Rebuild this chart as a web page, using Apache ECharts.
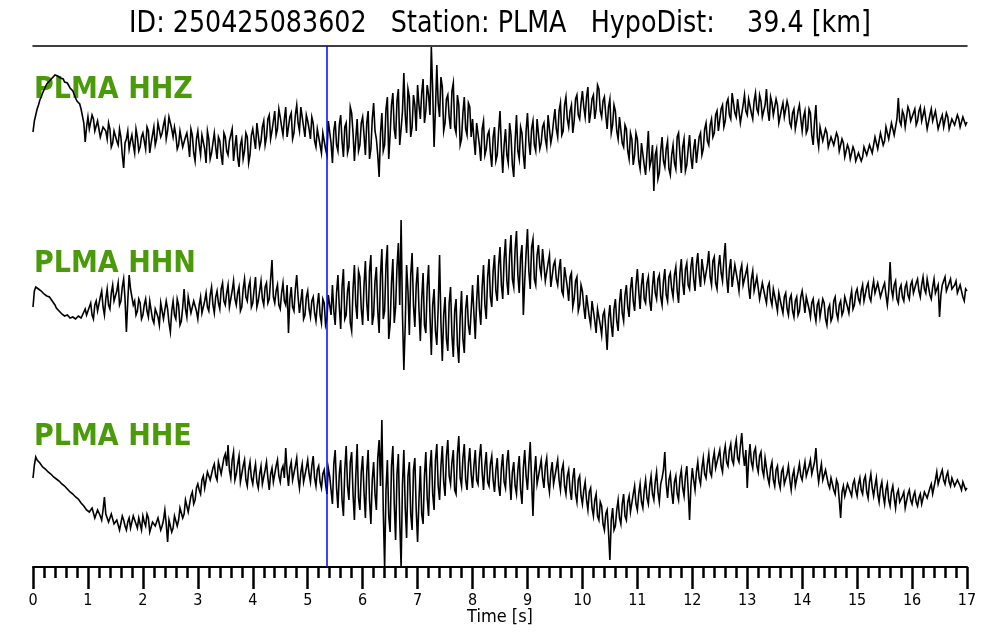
<!DOCTYPE html>
<html>
<head>
<meta charset="utf-8">
<script src="https://cdn.jsdelivr.net/npm/echarts@6/dist/echarts.min.js"></script>
<style>
html,body{margin:0;padding:0;background:#fff;}
#chart{width:1000px;height:640px;}
</style>
</head>
<body>
<div id="chart"></div>
<script>
// ---- data ----
const titleText = 'ID: 250425083602   Station: PLMA   HypoDist:    39.4 [km]';
const traceLabels = ['PLMA HHZ', 'PLMA HHN', 'PLMA HHE'];
const axisTitle = 'Time [s]';
const timeStep = 0.025;     // seconds between samples (one row = 1 s)
const pickTime = 5.345;     // blue marker (s)
const xMin = 0, xMax = 17;

const hhz = [
-7,4,10,16,20,25,28,32,35,38,41,42,44,46,47,48,50,51,49,48,47,47,46,43,42,42,41,37,35,34,32,27,24,23,21,16,14,2,-17,-2,
8,-4,-2,10,6,-6,-8,4,2,-12,-10,-2,0,-6,-14,2,-4,-22,-18,-6,-8,-16,-20,-4,-12,-30,-43,-18,-14,-6,-24,-16,-10,-20,-28,-4,-12,-26,-22,-12,
-8,-16,-24,-2,-6,-28,-18,-10,-2,-20,-14,2,4,-12,-8,0,6,-14,-6,8,2,-4,-12,-2,-10,-24,-20,-6,-14,-22,-24,-12,-8,-18,-32,-4,-10,-28,-36,-14,
-6,-20,-30,-10,-12,-24,-38,-6,-14,-34,-28,-18,-8,-22,-34,-12,-16,-30,-40,-8,-12,-26,-30,-16,-18,-4,-36,-22,-10,-32,-42,-20,-14,-34,-26,-8,-12,-38,-30,-10,
-4,-14,-24,2,0,-22,-16,-2,4,-20,-12,6,10,-14,-6,4,14,-10,-4,16,8,-2,-10,6,18,-12,-2,8,12,-14,-8,10,20,2,-6,18,16,-2,-12,10,
4,-4,-14,8,2,-16,-22,-4,-6,-20,-28,-8,-10,-24,-30,4,6,-18,-38,-6,4,-20,-26,0,10,-16,-32,-2,2,-28,-22,18,12,-8,-36,-14,6,-26,-20,2,
8,-10,-30,2,14,-34,-24,6,22,-6,-14,-30,-52,-8,12,-26,-20,16,28,-34,-10,20,32,-4,-14,24,36,-20,-4,14,52,10,-8,36,28,-12,-2,30,20,-6,
40,20,6,32,46,2,14,40,30,10,78,34,-22,16,60,22,8,48,38,-6,2,26,30,8,-4,34,42,-2,-8,30,20,-20,-14,12,28,-4,-10,22,18,-12,
6,-14,-30,2,0,-20,-36,-4,4,-30,-24,-10,-6,-28,-42,-12,-2,-36,-30,-6,14,-22,-48,-20,-4,-30,-38,2,-10,-40,-52,-16,10,-26,-34,-2,-8,-30,-44,-6,
12,-16,-30,-4,4,-20,-26,6,8,-24,-18,-2,2,-14,-22,10,12,-18,-10,4,16,-4,-12,14,22,-10,-6,20,28,6,-2,14,20,-8,4,26,30,10,6,22,
34,18,8,28,38,2,12,26,30,6,16,40,36,14,8,24,28,10,-4,18,26,-8,0,20,14,-6,-14,8,6,-18,-22,0,-4,-26,-34,-8,-14,-40,-30,-8,
-14,-36,-44,-18,-20,-40,-50,-28,-6,-42,-36,-20,-66,-30,-24,-54,-48,-26,-12,-36,-42,-24,-16,-44,-50,-30,-20,-38,-44,-12,-8,-30,-48,-22,-14,-46,-40,-24,-10,-32,
-44,-24,-14,-38,-36,-12,-8,-30,-24,-4,2,-16,-20,0,6,-12,-8,10,14,-6,-4,16,20,-2,4,22,26,10,6,32,30,12,8,26,24,2,4,20,30,14,
10,26,28,12,6,24,32,16,12,30,24,8,8,20,36,14,4,28,22,10,12,26,20,2,0,16,22,8,6,24,18,2,-2,12,16,-4,4,14,20,6,
-6,8,14,-8,-4,16,12,-10,-20,4,20,-12,-22,-2,-4,-16,-18,-4,-8,-22,-24,-12,-10,-20,-20,-8,-12,-26,-28,-14,-18,-32,-30,-20,-24,-34,-32,-22,-26,-36,
-34,-28,-26,-36,-32,-22,-24,-30,-30,-20,-18,-28,-26,-12,-14,-24,-22,-8,-10,-20,-16,-2,-4,-14,-12,2,4,-10,-8,6,27,4,0,14,10,-2,-4,18,14,4,
2,12,16,0,4,14,18,4,6,16,14,-4,-2,10,16,4,2,14,12,-4,-6,6,10,-2,0,12,8,-4,-6,6,8,0,-2,10,6,-2,-4,8,6,0,
3
];

const hhn = [
-12,4,8,8,6,5,4,2,1,0,-1,-2,-2,-4,-6,-8,-10,-13,-15,-16,-18,-19,-18,-21,-22,-20,-20,-23,-24,-22,-21,-24,-25,-21,-19,-23,-24,-17,-14,-20,
-22,-12,-8,-20,-24,-10,-6,-16,-18,-2,4,-12,-20,-4,6,-10,-14,2,10,-6,-8,4,12,-10,-6,8,16,-4,-37,-6,20,6,4,-10,-6,-20,-16,-4,-8,-24,
-20,-10,-4,-16,-22,-6,-8,-24,-28,-14,-12,-22,-30,-8,-10,-24,-26,-6,-14,-28,-37,-16,-6,-20,-24,-4,-10,-30,-26,-12,6,-14,-22,-2,-4,-18,-20,-6,-8,-16,
-24,-10,-2,-18,-20,-6,2,-12,-16,0,8,-10,-18,-2,4,-8,-14,6,12,-6,-10,2,10,-12,-14,4,14,-4,-10,2,8,-16,-12,6,16,-2,-6,8,14,-12,
-8,6,18,-12,-6,4,14,-4,-10,8,12,-8,-4,16,35,-2,-8,4,10,-10,-14,2,12,-6,-10,10,-38,-4,8,-12,-16,6,20,-2,-18,-6,6,-24,-20,-2,
4,-14,-22,-6,-2,-18,-26,-10,2,-20,-28,-4,-8,-30,-24,0,-10,-20,10,-16,-30,2,20,-12,-34,8,26,-24,-20,4,14,-28,-36,6,30,-10,-24,24,18,-14,
-30,10,34,-8,-26,24,40,-30,-20,14,28,-16,-38,20,46,-24,-16,30,50,-44,-30,12,36,-28,-12,28,52,-10,75,-20,-75,-30,30,4,-40,20,42,-10,-32,10,
28,-14,-46,-4,22,-30,-38,8,30,-20,-60,-10,6,-36,-50,-12,40,-28,-66,-20,-2,-44,-56,-8,8,-40,-62,-16,-4,-50,-68,-22,4,-44,-58,-14,0,-30,-40,-16,
10,-18,-44,-6,20,-14,-30,8,30,-10,-24,18,36,-2,-12,24,40,4,-6,30,48,10,-4,36,56,14,0,40,60,16,8,46,64,20,2,38,50,-20,14,42,
66,24,6,48,56,16,10,40,50,28,20,46,44,14,12,32,40,8,6,30,34,16,10,26,36,4,0,28,30,8,-6,18,22,-12,-4,14,18,-16,-10,10,
4,-12,-24,0,-2,-22,-30,-6,-8,-26,-38,-14,-12,-30,-40,-20,-16,-34,-55,-24,-10,-30,-42,-14,-4,-26,-36,-8,6,-18,-26,0,10,-12,-22,6,18,-6,-16,10,
26,4,-14,10,22,-4,-8,12,18,-6,-16,8,24,2,-4,16,20,-2,-10,14,26,0,-6,18,22,6,-2,20,28,4,-8,22,36,12,0,26,32,10,6,28,
38,16,4,30,42,20,8,36,34,14,12,30,44,18,10,34,38,12,6,28,40,22,14,36,52,18,2,26,36,8,10,30,32,14,4,24,30,10,8,22,
28,8,-4,16,24,4,2,18,20,-4,-2,12,14,-2,-8,8,12,-4,-10,6,8,-8,-16,2,4,-12,-18,-2,2,-14,-20,-4,0,-16,-22,-6,-2,-20,-16,-2,
4,-6,-18,-2,0,-14,-22,-8,-4,-18,-26,-10,-6,-22,-20,-4,-8,-24,-30,-14,-10,-26,-22,-6,-2,-18,-24,-10,-6,-20,-16,-2,0,-12,-18,-4,4,-14,-10,2,
6,-4,-8,4,10,-6,-4,8,12,-2,-6,6,14,2,0,12,10,-2,-4,8,12,0,-10,4,33,6,-2,10,14,-4,-8,6,10,-2,-6,8,12,0,-4,10,
14,2,0,12,16,4,-2,10,18,6,2,16,14,0,-4,8,16,2,4,10,-22,0,10,14,18,4,2,12,16,6,4,10,14,2,0,10,12,-2,-6,6,
4
];

const hhe = [
2,15,23,20,18,17,16,13,12,11,10,8,7,6,5,3,2,1,0,-1,-2,-4,-5,-6,-8,-9,-10,-12,-13,-14,-15,-17,-18,-19,-20,-23,-25,-26,-27,-30,
-28,-32,-34,-28,-30,-38,-36,-30,-32,-36,-40,-30,-17,-34,-38,-42,-44,-34,-36,-44,-46,-40,-38,-50,-48,-36,-40,-46,-50,-42,-38,-48,-46,-36,-34,-44,-48,-38,-40,-50,
-36,-42,-46,-34,-38,-52,-50,-42,-40,-46,-48,-38,-36,-50,-46,-40,-30,-44,-62,-40,-38,-52,-48,-36,-34,-46,-40,-28,-26,-38,-34,-20,-22,-32,-30,-16,-12,-24,-20,-8,
-4,-10,-14,0,4,-8,-6,8,10,0,-2,12,16,4,0,18,20,6,4,22,26,14,35,10,2,20,28,0,6,16,24,-2,-4,14,20,0,-6,10,18,2,
-4,8,16,-2,-8,6,14,-4,-6,10,18,2,-10,6,12,-2,-4,14,20,4,-2,10,14,2,32,8,-6,12,18,0,-2,14,22,2,-8,8,16,-2,-4,12,
20,6,-2,14,24,2,-6,10,14,-2,-8,6,10,-4,-14,12,4,-10,-24,16,30,-8,-28,6,20,-20,-36,10,34,-6,-20,18,28,-14,-40,4,36,-18,-30,8,
24,-12,-38,8,30,-20,-44,0,18,-14,-30,22,40,-6,60,-30,-87,-10,20,-36,-52,14,34,-24,-60,6,26,-40,-87,-4,30,-28,-58,4,18,-34,-50,10,22,-30,
-62,-20,14,-34,-44,4,28,-18,-36,12,30,-14,-30,20,36,-6,-20,14,34,-2,-16,24,40,4,-4,18,30,-10,-14,26,44,2,-6,22,36,0,-10,16,32,6,
-8,14,30,0,-4,22,36,8,-10,14,28,-2,-6,16,24,0,-12,10,22,-6,-16,12,26,-2,-8,18,30,2,-20,8,18,-6,-14,10,24,-10,-24,12,30,4,
-10,16,38,0,-36,6,24,-4,-6,12,20,2,-8,14,22,-2,-12,8,18,-4,-2,12,20,0,-10,10,16,-6,-14,4,10,-10,-20,2,12,-14,-22,0,4,-16,
-24,-10,-2,-20,-30,-12,-8,-28,-36,-20,-14,-36,-40,-22,-26,-44,-50,-34,-30,-52,-80,-40,-28,-50,-46,-30,-20,-38,-44,-24,-14,-36,-40,-22,-16,-32,-34,-14,-6,-24,
-30,-14,-4,-22,-28,-10,0,-18,-24,-6,4,-14,-20,-2,8,-12,-22,-4,2,10,28,-4,-18,0,6,-12,-24,-2,4,-14,-20,2,10,-8,-16,4,14,-10,-40,-6,
12,0,-10,8,18,2,-4,12,22,6,2,16,26,8,4,20,28,12,10,24,30,14,8,26,34,18,14,30,36,20,16,32,40,22,18,34,47,26,14,30,
-8,20,36,18,12,28,32,14,8,24,28,10,4,22,20,2,-4,12,18,0,-6,10,14,-2,-8,8,12,-4,-6,6,14,0,-10,4,10,-6,-4,8,16,4,
0,10,18,4,2,14,20,6,4,18,32,10,-2,8,16,0,0,10,12,-4,-8,2,4,-10,-14,0,-4,-20,-38,-12,-6,-16,-18,-4,-2,-12,-16,-4,0,-10,
-16,-4,2,-10,-14,0,4,-12,-18,-2,6,-8,-16,-6,2,-14,-22,-8,-2,-16,-24,-10,-4,-20,-26,-12,-6,-18,-28,-14,-10,-22,-24,-16,-12,-28,-26,-14,-10,-20,
-24,-16,-12,-22,-26,-18,-14,-24,-22,-12,-10,-18,-18,-8,-4,-14,-12,0,8,-4,-2,6,10,0,-4,4,8,-2,-6,2,4,-6,-8,0,2,-6,-10,-2,-4,-10,
-8
];

// ---- layout / build ----
const traces = [hhz, hhn, hhe];
const traceOffsets = [442, 272, 87];   // vertical placement of each trace on the hidden y scale
const labelY = [90, 264, 437];
const font = '"DejaVu Sans", "Liberation Sans", sans-serif';
const condFont = '"DejaVu Sans Condensed", "DejaVu Sans", sans-serif';

const series = traces.map((arr, k) => ({
  type: 'line',
  name: traceLabels[k],
  showSymbol: false,
  symbol: 'none',
  animation: false,
  silent: true,
  z: 3,
  lineStyle: { color: '#000', width: 1.6, join: 'miter' },
  data: arr.map((v, i) => [i * timeStep, traceOffsets[k] + v]),
  markLine: k === 0 ? {
    silent: true,
    animation: false,
    symbol: ['none', 'none'],
    label: { show: false },
    lineStyle: { color: '#0000ff', width: 1.5, type: 'solid' },
    data: [{ xAxis: pickTime }]
  } : undefined
}));

const graphics = traceLabels.map((t, k) => ({
  type: 'text',
  x: 34,
  y: labelY[k],
  z: 0,
  scaleY: 1.12,
  silent: true,
  style: {
    text: t,
    font: 'bold 27px ' + font,
    fill: '#4a9a0a',
    verticalAlign: 'middle',
    align: 'left'
  }
}));
graphics.push({
  type: 'text',
  x: 500,
  y: 24,
  z: 0,
  scaleY: 1.2,
  silent: true,
  style: {
    text: titleText,
    font: '25.4px ' + font,
    fill: '#000',
    verticalAlign: 'middle',
    align: 'center'
  }
});

const chart = echarts.init(document.getElementById('chart'), null, { renderer: 'canvas' });
chart.setOption({
  backgroundColor: '#fff',
  animation: false,
  grid: { left: 33, right: 33, top: 46, bottom: 73, containLabel: false, outerBoundsMode: 'none' },
  xAxis: [{
    type: 'value', min: xMin, max: xMax, interval: 1,
    position: 'bottom',
    axisLine: { show: true, onZero: false, lineStyle: { color: '#000', width: 2 } },
    axisTick: { show: true, inside: false, length: 22, lineStyle: { color: '#000', width: 2.5 } },
    minorTick: { show: true, splitNumber: 5, length: 11, lineStyle: { color: '#000', width: 2.5 } },
    axisLabel: { show: true, margin: 26, fontSize: 16, color: '#000', fontFamily: condFont },
    splitLine: { show: false },
    minorSplitLine: { show: false },
    name: axisTitle,
    nameLocation: 'middle',
    nameGap: 41,
    nameMoveOverlap: false,
    nameTextStyle: { fontSize: 18, color: '#000', fontFamily: condFont }
  }, {
    type: 'value', min: xMin, max: xMax, interval: 1,
    position: 'top',
    axisLine: { show: true, onZero: false, lineStyle: { color: '#000', width: 1.5 } },
    axisTick: { show: false },
    axisLabel: { show: false },
    splitLine: { show: false }
  }],
  yAxis: { type: 'value', min: 0, max: 521, show: false, splitLine: { show: false } },
  graphic: graphics,
  series: series
});
</script>
</body>
</html>
